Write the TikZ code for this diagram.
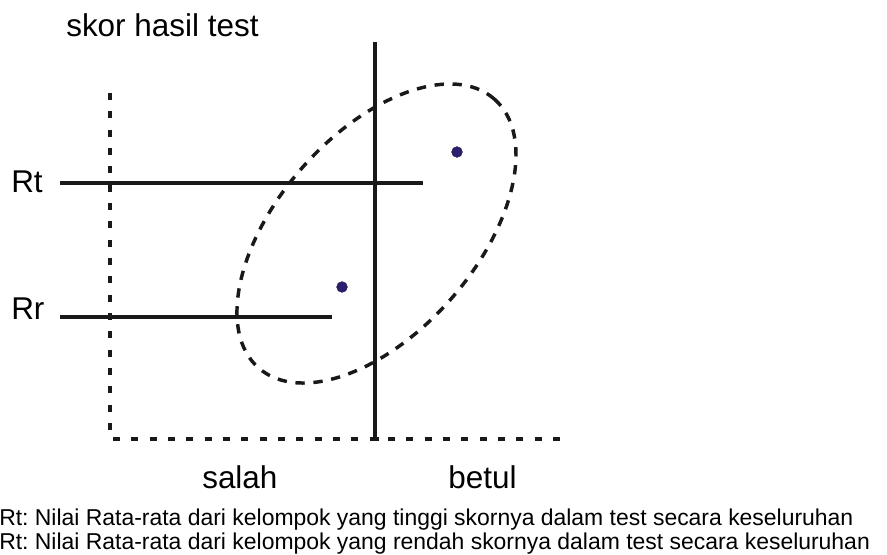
\documentclass[tikz,border=0pt]{standalone}
\usepackage{fontspec}
\setmainfont{Liberation Sans}
\frenchspacing
\begin{document}
\begin{tikzpicture}[x=0.75pt,y=-0.75pt,
  lbl/.style={anchor=base west,inner sep=0pt,font=\fontsize{23.6pt}{27pt}\selectfont},
  note/.style={anchor=base west,inner sep=0pt,font=\fontsize{17.2pt}{20pt}\selectfont},
  solidline/.style={line width=2.3pt,black!90},
  axisdash/.style={line width=3pt,black!90,dash pattern=on 5.25pt off 8.5pt},
  ovaldash/.style={line width=2.6pt,black!90,dash pattern=on 7pt off 6.5pt},
  meandot/.style={circle,fill=dotblue,draw=dotblue!70!black,line width=0.4pt,inner sep=0pt,minimum size=8pt}]
\definecolor{dotblue}{HTML}{2B2070}
\useasboundingbox (0,0) rectangle (887,555);
% labels
\node[lbl] (title) at (66,37) {skor hasil test};
\node[lbl] (rt) at (11,193) {Rt};
\node[lbl] (rr) at (11,320) {Rr};
\node[lbl] (salah) at (202,488) {salah};
\node[lbl] (betul) at (448,488) {betul};
\node[note] (n1) at (-1,525) {Rt: Nilai Rata-rata dari kelompok yang tinggi skornya dalam test secara keseluruhan};
\node[note] (n2) at (-1,549) {Rt: Nilai Rata-rata dari kelompok yang rendah skornya dalam test secara keseluruhan};
% coordinates
\coordinate (vtop) at (110,93);
\coordinate (corner) at (110,439);
\coordinate (hend) at (568,439);
\coordinate (stop) at (375,42);
\coordinate (sbot) at (375,439);
\coordinate (rtL) at (60,183);
\coordinate (rtR) at (423,183);
\coordinate (rrL) at (60,317);
\coordinate (rrR) at (332,317);
\coordinate (ctr) at (376.5,233.5);
% axes
\draw[axisdash] (vtop) -- (corner);
\draw[axisdash] (113,439) -- (hend);
\draw[solidline] (stop) -- (sbot) -- ++(4,0);
\draw[solidline] (rtL) -- (rtR);
\draw[solidline] (rrL) -- (rrR);
% oval
\draw[ovaldash,rotate around={48.75:(ctr)}] (ctr) ellipse [x radius=178.8, y radius=99.2];
% dots
\node[meandot] (d1) at (457,152) {};
\node[meandot] (d2) at (342,287) {};
\end{tikzpicture}
\end{document}
